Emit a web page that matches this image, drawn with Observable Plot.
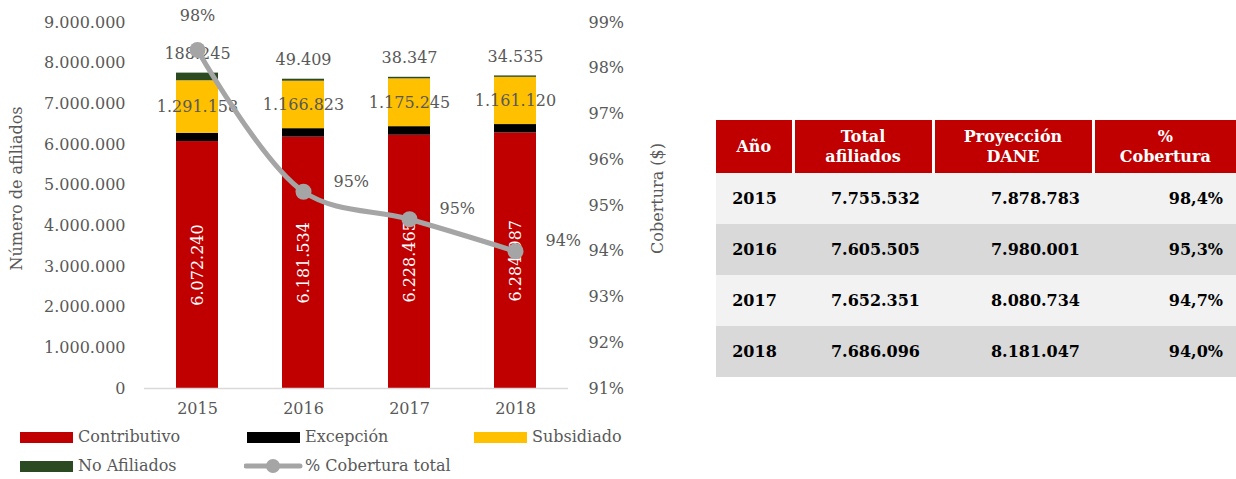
<!DOCTYPE html>
<html><head><meta charset="utf-8">
<script src="https://cdn.jsdelivr.net/npm/d3@7"></script>
<script src="https://cdn.jsdelivr.net/npm/@observablehq/plot@0.6"></script>
<style>
body{margin:0;background:#fff;width:1236px;height:479px;position:relative;overflow:hidden;font-family:"DejaVu Serif",serif;color:#595959;}
#chart{position:absolute;left:0;top:0;}
.lg{position:absolute;font-size:16px;line-height:20px;color:#595959;white-space:nowrap;font-family:"DejaVu Serif",serif;}
.sw{position:absolute;width:53px;height:11px;}
#tbl{position:absolute;left:716px;top:120px;width:520px;border-collapse:collapse;font-family:"DejaVu Serif",serif;font-weight:bold;}
#tbl th{background:#C00000;color:#fff;font-size:16px;line-height:20px;height:53px;padding:0;border-left:3px solid #fff;text-align:center;}
#tbl th:first-child{border-left:none;}
#tbl td{height:51px;padding:0 13px 0 0;font-size:16px;color:#000;text-align:right;}
#tbl td:first-child{text-align:center;padding:0;}
#tbl tr.odd td{background:#F2F2F2;}
#tbl tr.even td{background:#D9D9D9;}
</style></head><body>
<div id="chart"></div>
<div id="legend"></div>
<table id="tbl"></table>
<script>
const years = ["2015","2016","2017","2018"];
const contributivo = [6072240, 6181534, 6228465, 6284987];
const excepcion = [203889, 207739, 210294, 205454];
const subsidiado = [1291158, 1166823, 1175245, 1161120];
const noAfiliados = [188245, 49409, 38347, 34535];
const cobertura = [98.4, 95.3, 94.7, 94.0];
const totalAfiliados = [7755532, 7605505, 7652351, 7686096];
const proyeccionDane = [7878783, 7980001, 8080734, 8181047];
const coberturaTabla = ["98,4%", "95,3%", "94,7%", "94,0%"];
const countTicks = [0,1000000,2000000,3000000,4000000,5000000,6000000,7000000,8000000,9000000];
const pctTicks = [91,92,93,94,95,96,97,98,99];
const series = ["Contributivo","Excepción","Subsidiado","No Afiliados"];
const colors = ["#C00000","#000000","#FFC000","#2B4A22"];
const lineColor = "#A5A5A5";
const tableHeader = ["Año","Total<br>afiliados","Proyección<br>DANE","%<br>Cobertura"];

const FONT = "'DejaVu Serif', serif";
const locale = d3.formatLocale({decimal:",",thousands:".",grouping:[3],currency:["$",""]});
const fmt = locale.format(",d");
const toCount = d3.scaleLinear([91,99],[0,9000000]);

const seriesValues = [contributivo, excepcion, subsidiado, noAfiliados];
const stacked = [];
series.forEach((s,si)=>years.forEach((y,i)=>stacked.push({year:y, serie:s, value:seriesValues[si][i]})));

const contribLabels = years.map((y,i)=>({year:y, y:contributivo[i]/2, text:fmt(contributivo[i])}));
const subsLabels = years.map((y,i)=>({year:y, y:contributivo[i]+excepcion[i]+subsidiado[i]/2, text:fmt(subsidiado[i])}));
const naLabels = years.map((y,i)=>({year:y, y:contributivo[i]+excepcion[i]+subsidiado[i]+noAfiliados[i], text:fmt(noAfiliados[i])}));
const cov = years.map((y,i)=>({year:y, y:toCount(cobertura[i]), text:Math.round(cobertura[i])+"%"}));

const chart = Plot.plot({
  width: 690, height: 428,
  marginLeft: 144, marginRight: 122, marginTop: 22, marginBottom: 40,
  style: {fontFamily: FONT, fontSize:"16px", color:"#595959", background:"transparent"},
  x: {domain: years, paddingInner: 0.6, paddingOuter: 0.3, axis: null, label: null},
  y: {domain: [0, 9000000], axis: null, label: null},
  color: {domain: series, range: colors},
  marks: [
    Plot.axisY(countTicks, {tickSize:0, tickPadding:19, tickFormat: fmt, label: null, fontFamily: FONT}),
    Plot.axisY(pctTicks.map(v=>toCount(v)), {anchor:"right", tickSize:0, tickPadding:20, tickFormat: v=>Math.round(toCount.invert(v))+"%", label: null, fontFamily: FONT}),
    Plot.axisX({tickSize:0, tickPadding:14, label: null, fontFamily: FONT}),
    Plot.barY(stacked, {x:"year", y:"value", fill:"serie", z:"serie", order: series}),
    Plot.ruleY([0], {stroke:"#D9D9D9", strokeWidth:1.5}),
    Plot.text(contribLabels, {x:"year", y:"y", text:"text", rotate:-90, fill:"#fff", fontFamily: FONT}),
    Plot.text(subsLabels, {x:"year", y:"y", text:"text", fontFamily: FONT}),
    Plot.text(naLabels, {x:"year", y:"y", text:"text", dy:-19, fontFamily: FONT}),
    Plot.line(cov, {x:"year", y:"y", stroke:lineColor, strokeWidth:5, curve:"catmull-rom"}),
    Plot.dot(cov, {x:"year", y:"y", r:8, fill:lineColor}),
    Plot.text(cov.slice(0,1), {x:"year", y:"y", text:"text", dy:-34, fontFamily: FONT}),
    Plot.text(cov.slice(1), {x:"year", y:"y", text:"text", textAnchor:"start", dx:30, dy:-10, fontFamily: FONT}),
    Plot.text(["Número de afiliados"], {frameAnchor:"left", textAnchor:"middle", dx:-128, dy:-17, rotate:-90, fontFamily: FONT}),
    Plot.text(["Cobertura ($)"], {frameAnchor:"right", textAnchor:"middle", dx:89, dy:-7, rotate:-90, fontFamily: FONT})
  ]
});
document.getElementById("chart").appendChild(chart);

// legend
const lg = document.getElementById("legend");
const legendItems = [
  {label:series[0], color:colors[0], x:20, y:437},
  {label:series[1], color:colors[1], x:247, y:437},
  {label:series[2], color:colors[2], x:474, y:437},
  {label:series[3], color:colors[3], x:20, y:466}
];
legendItems.forEach(it=>{
  const sw=document.createElement("div"); sw.className="sw";
  sw.style.left=it.x+"px"; sw.style.top=(it.y-5)+"px"; sw.style.background=it.color; lg.appendChild(sw);
  const t=document.createElement("div"); t.className="lg"; t.textContent=it.label;
  t.style.left=(it.x+58)+"px"; t.style.top=(it.y-10)+"px"; lg.appendChild(t);
});
const ls = document.createElementNS("http://www.w3.org/2000/svg","svg");
ls.setAttribute("width","60"); ls.setAttribute("height","20");
ls.style.position="absolute"; ls.style.left="244px"; ls.style.top="456px";
ls.innerHTML=`<line x1="2" y1="10" x2="56" y2="10" stroke="${lineColor}" stroke-width="5" stroke-linecap="round"/><circle cx="29" cy="10" r="7" fill="${lineColor}"/>`;
lg.appendChild(ls);
const lt=document.createElement("div"); lt.className="lg"; lt.textContent="% Cobertura total";
lt.style.left="305px"; lt.style.top="456px"; lg.appendChild(lt);

// table
const tbl = document.getElementById("tbl");
let html = "<colgroup><col style='width:77px'><col style='width:140px'><col style='width:160px'><col style='width:143px'></colgroup>";
html += "<tr>" + tableHeader.map(h=>`<th>${h}</th>`).join("") + "</tr>";
years.forEach((y,i)=>{
  html += `<tr class="${i%2===0?'odd':'even'}"><td>${y}</td><td>${fmt(totalAfiliados[i])}</td><td>${fmt(proyeccionDane[i])}</td><td>${coberturaTabla[i]}</td></tr>`;
});
tbl.innerHTML = html;
</script>
</body></html>
